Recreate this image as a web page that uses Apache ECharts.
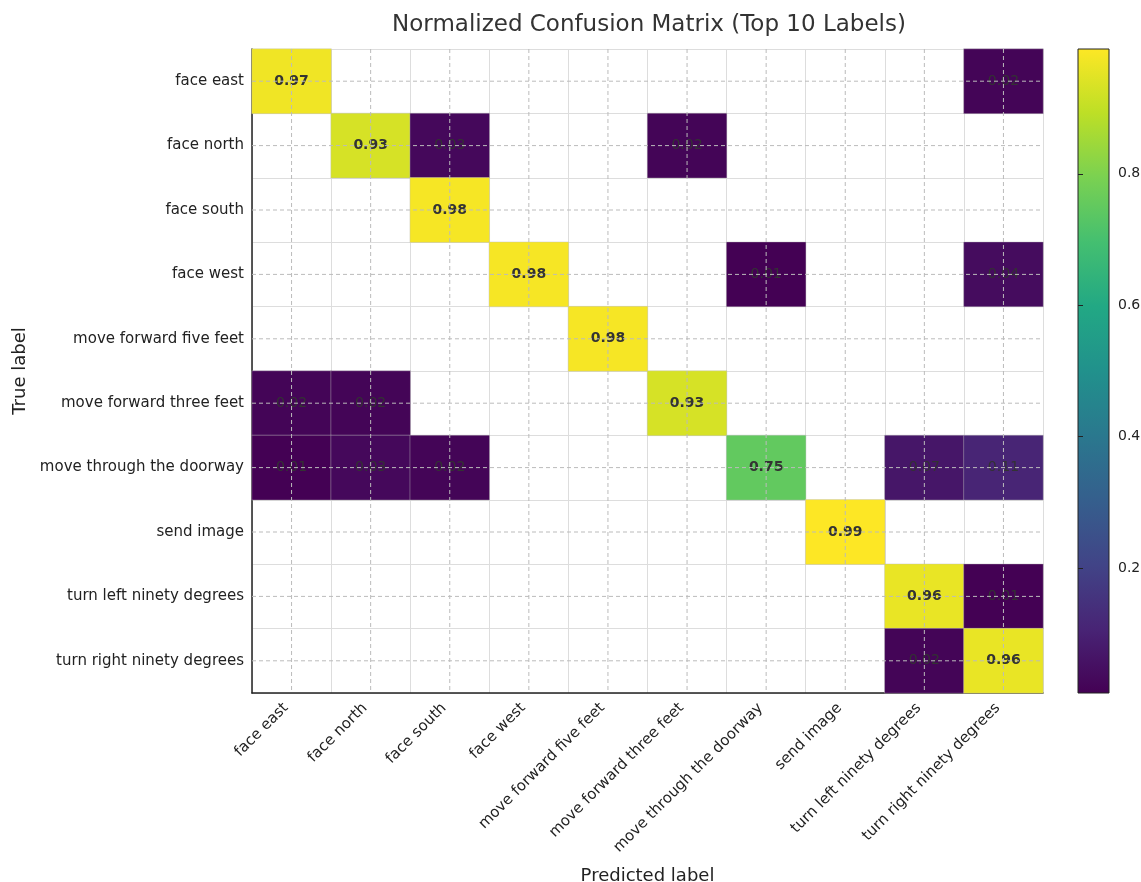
<!DOCTYPE html>
<html>
<head>
<meta charset="utf-8">
<title>Normalized Confusion Matrix</title>
<script src="https://cdn.jsdelivr.net/npm/echarts@6/dist/echarts.min.js"></script>
<style>
  html, body { margin: 0; padding: 0; background: #fff; }
  #chart { width: 1141px; height: 882px; }
</style>
</head>
<body>
<div id="chart"></div>
<script>
var labels = [
  "face east", "face north", "face south", "face west",
  "move forward five feet", "move forward three feet",
  "move through the doorway", "send image",
  "turn left ninety degrees", "turn right ninety degrees"
];

// rows = true label, columns = predicted label (0 = empty cell)
var matrix = [
  [0.97, 0, 0, 0, 0, 0, 0, 0, 0, 0.02],
  [0, 0.93, 0.03, 0, 0, 0.02, 0, 0, 0, 0],
  [0, 0, 0.98, 0, 0, 0, 0, 0, 0, 0],
  [0, 0, 0, 0.98, 0, 0, 0.01, 0, 0, 0.04],
  [0, 0, 0, 0, 0.98, 0, 0, 0, 0, 0],
  [0.02, 0.02, 0, 0, 0, 0.93, 0, 0, 0, 0],
  [0.01, 0.03, 0.02, 0, 0, 0, 0.75, 0, 0.07, 0.11],
  [0, 0, 0, 0, 0, 0, 0, 0.99, 0, 0],
  [0, 0, 0, 0, 0, 0, 0, 0, 0.96, 0.01],
  [0, 0, 0, 0, 0, 0, 0, 0, 0.02, 0.96]
];

var colorbarTicks = [0.2, 0.4, 0.6, 0.8];
var valueMin = 0.01;
var valueMax = 0.99;

var viridis = [
  "#440154", "#482475", "#414487", "#355f8d", "#2a788e", "#21918c",
  "#22a884", "#44bf70", "#7ad151", "#bddf26", "#fde725"
];

var FONT = "DejaVu Sans";

var cells = [];
matrix.forEach(function (row, r) {
  row.forEach(function (v, c) {
    if (v > 0) {
      cells.push({
        value: [c, r, v],
        label: { fontWeight: v >= 0.5 ? "bold" : "normal" }
      });
    }
  });
});

var gradientStops = viridis.map(function (c, i) {
  return { offset: i / (viridis.length - 1), color: c };
});

var chart = echarts.init(document.getElementById("chart"));

chart.setOption({
  backgroundColor: "#fff",
  animation: false,
  title: {
    text: "Normalized Confusion Matrix (Top 10 Labels)",
    left: 644,
    top: 9,
    textAlign: "center",
    textStyle: { fontFamily: FONT, fontSize: 23, fontWeight: "normal", color: "#333" }
  },
  grid: [
    { left: 252, top: 49, width: 791, height: 644, outerBoundsMode: "none", containLabel: false },
    // colorbar
    {
      left: 1078, top: 49, width: 31, height: 644, show: true,
      outerBoundsMode: "none", containLabel: false,
      backgroundColor: new echarts.graphic.LinearGradient(0, 1, 0, 0, gradientStops),
      borderColor: "#222", borderWidth: 1
    }
  ],
  xAxis: [
    {
      type: "category",
      data: labels,
      gridIndex: 0,
      name: "Predicted label",
      nameLocation: "middle",
      nameGap: 174,
      nameTextStyle: { fontFamily: FONT, fontSize: 18, color: "#222" },
      axisLine: { lineStyle: { color: "#222", width: 1.5 } },
      axisTick: { alignWithLabel: true, length: 5, lineStyle: { color: "#222" } },
      axisLabel: {
        rotate: 45, interval: 0, margin: 7, padding: [0, 8, 0, 0],
        fontFamily: FONT, fontSize: 15, color: "#222"
      },
      splitLine: { show: true, lineStyle: { color: "#ddd", width: 1 } }
    },
    { type: "value", gridIndex: 1, show: false, min: 0, max: 1 }
  ],
  yAxis: [
    {
      type: "category",
      data: labels,
      gridIndex: 0,
      inverse: true,
      name: "True label",
      nameLocation: "middle",
      nameGap: 222,
      nameTextStyle: { fontFamily: FONT, fontSize: 18, color: "#222" },
      axisLine: { lineStyle: { color: "#222", width: 1.5 } },
      axisTick: { alignWithLabel: true, length: 5, lineStyle: { color: "#222" } },
      axisLabel: { interval: 0, margin: 8, fontFamily: FONT, fontSize: 15, color: "#222" },
      splitLine: { show: true, lineStyle: { color: "#ddd", width: 1 } }
    },
    {
      type: "value",
      gridIndex: 1,
      position: "right",
      min: valueMin,
      max: valueMax,
      axisLine: { show: false },
      axisTick: { show: true, length: 5, customValues: colorbarTicks, lineStyle: { color: "#222" } },
      axisLabel: {
        customValues: colorbarTicks, margin: 9,
        fontFamily: FONT, fontSize: 14, color: "#222",
        formatter: function (v) { return v.toFixed(1); }
      },
      splitLine: { show: false }
    }
  ],
  visualMap: {
    show: false,
    type: "continuous",
    seriesIndex: 0,
    min: valueMin,
    max: valueMax,
    inRange: { color: viridis }
  },
  series: [
    {
      type: "heatmap",
      xAxisIndex: 0,
      yAxisIndex: 0,
      data: cells,
      itemStyle: { borderColor: "rgba(190,190,190,0.7)", borderWidth: 0.6 },
      label: {
        show: true,
        fontFamily: FONT,
        fontSize: 14,
        color: "#333",
        textBorderWidth: 0,
        textBorderColor: "transparent",
        formatter: function (p) { return p.value[2].toFixed(2); }
      },
      emphasis: { disabled: true }
    },
    {
      // dashed grid through the cell centres, on top of the cells
      type: "custom",
      xAxisIndex: 0,
      yAxisIndex: 0,
      z: 5,
      silent: true,
      data: labels.map(function (l, i) { return [i, i]; }),
      renderItem: function (params, api) {
        var cs = params.coordSys;
        var p = api.coord([api.value(0), api.value(1)]);
        var style = { stroke: "#bbb", lineWidth: 1, lineDash: [4, 3] };
        return {
          type: "group",
          children: [
            { type: "line", shape: { x1: p[0], y1: cs.y, x2: p[0], y2: cs.y + cs.height }, style: style },
            { type: "line", shape: { x1: cs.x, y1: p[1], x2: cs.x + cs.width, y2: p[1] }, style: style }
          ]
        };
      }
    }
  ]
});
</script>
</body>
</html>
